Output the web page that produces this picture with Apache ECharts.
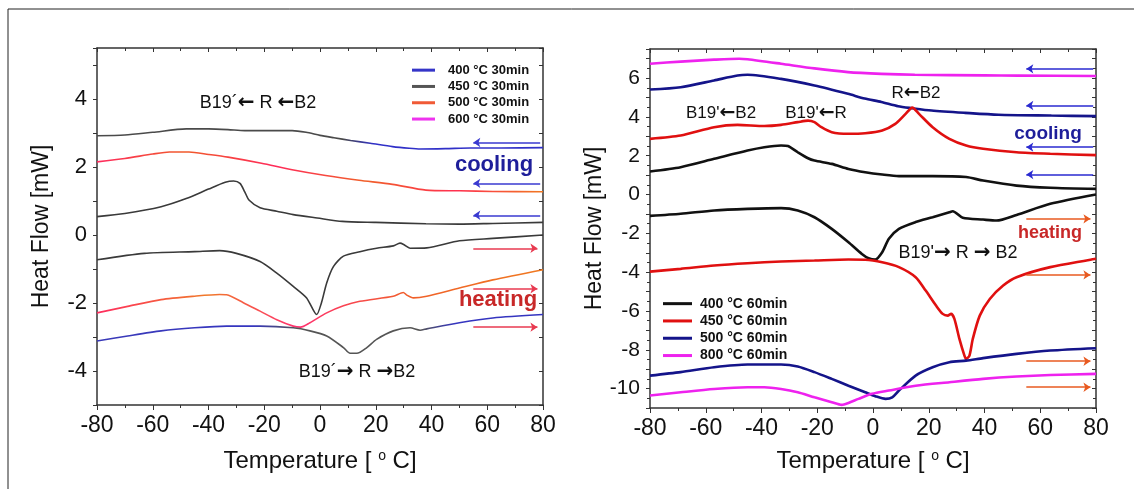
<!DOCTYPE html>
<html>
<head>
<meta charset="utf-8">
<script src="https://cdn.jsdelivr.net/npm/echarts@6/dist/echarts.min.js"></script>
<style>
  html, body { margin: 0; padding: 0; background: #fff; }
  #dsc { width: 1134px; height: 489px; }
</style>
</head>
<body>
<div id="dsc"></div>
<script>
// --- left panel: 30min anneals, [T (°C), heat flow (mW)] ---
var coolTopL = [[-80,2.92],[-70,2.94],[-60,3.02],[-48,3.12],[-40,3.12],[-33,3.1],[-27,3.07],[-20,3.07],[-10,3.07],[-5,3.02],[0,2.93],[5,2.86],[11,2.78],[18,2.7],[26,2.6],[32,2.55],[36,2.53],[45,2.54],[54,2.56],[65,2.56],[80,2.57]];
var coolMidL = [[-80,2.15],[-70,2.25],[-60,2.38],[-54,2.44],[-47,2.44],[-40,2.37],[-33,2.29],[-21,2.11],[-10,1.92],[2,1.75],[14,1.61],[26,1.49],[38,1.32],[50,1.3],[62,1.28],[80,1.27]];
var coolLowL = [[-80,0.54],[-70,0.63],[-57,0.83],[-48,1.07],[-40,1.35],[-34,1.55],[-31,1.59],[-28.7,1.52],[-27,1.27],[-25.4,1.02],[-21.5,0.8],[-15.5,0.7],[-9.6,0.6],[-1,0.5],[8,0.4],[20,0.37],[38,0.33],[50,0.32],[62,0.34],[80,0.37]];
var heatTopL = [[-80,-0.73],[-63,-0.54],[-45,-0.49],[-36,-0.46],[-30,-0.54],[-21.5,-0.78],[-15.5,-1.12],[-9.6,-1.51],[-4.8,-1.85],[-1.2,-2.34],[0.5,-2.0],[2.4,-1.41],[4.8,-0.93],[8.4,-0.62],[14.3,-0.49],[20.3,-0.39],[26.3,-0.32],[28.7,-0.24],[30,-0.28],[32.3,-0.39],[38.3,-0.38],[50,-0.17],[62,-0.1],[80,0]];
var heatMidL = [[-80,-2.29],[-69,-2.1],[-57,-1.9],[-45,-1.8],[-36,-1.75],[-33.5,-1.76],[-27.5,-1.99],[-21.5,-2.24],[-15.5,-2.49],[-9.6,-2.68],[-7,-2.71],[-3.6,-2.58],[2.4,-2.29],[8.4,-2.08],[14.3,-1.95],[26.3,-1.8],[29.9,-1.69],[31,-1.76],[33.5,-1.85],[38.3,-1.8],[50,-1.56],[62,-1.32],[80,-1.02]];
var heatLowL = [[-80,-3.12],[-69,-2.97],[-57,-2.82],[-45,-2.73],[-33.5,-2.68],[-21.5,-2.68],[-9.6,-2.73],[-3.6,-2.82],[2.4,-2.97],[8.4,-3.31],[10.8,-3.48],[13.2,-3.48],[16.8,-3.31],[20.3,-3.07],[26.3,-2.82],[32.3,-2.73],[35.9,-2.8],[38.3,-2.76],[50,-2.58],[62,-2.44],[80,-2.34]];

// --- right panel: 60min anneals ---
var coolMagR = [[-80,6.74],[-69,6.85],[-57,6.95],[-48,7.0],[-45,6.97],[-33,6.74],[-21,6.5],[-9,6.31],[3,6.22],[15,6.17],[40,6.14],[52,6.13],[80,6.11]];
var coolBlueR = [[-80,5.41],[-69,5.53],[-57,5.88],[-48.6,6.13],[-45,6.17],[-33,5.96],[-21,5.62],[-9,5.19],[-3,4.95],[3,4.77],[9,4.55],[14,4.45],[21,4.33],[33,4.21],[45,4.11],[64,4.07],[80,4.04]];
var coolRedR = [[-80,2.87],[-69,3.04],[-57,3.47],[-48.6,3.59],[-39,3.53],[-33,3.59],[-27,3.73],[-23.3,3.81],[-21,3.73],[-18.5,3.47],[-14.8,3.21],[-8.8,3.13],[-2.8,3.16],[3.3,3.3],[8,3.64],[11.7,4.16],[14.1,4.48],[16.5,4.16],[21.4,3.47],[27.4,2.87],[33.4,2.53],[39.5,2.36],[51.5,2.18],[63.6,2.1],[80,2.03]];
var coolBlackR = [[-80,1.19],[-69,1.41],[-57,1.84],[-45,2.27],[-39,2.44],[-33,2.53],[-30.5,2.5],[-27,2.18],[-23.3,1.87],[-21,1.75],[-14.8,1.58],[-8.8,1.32],[-2.8,1.15],[3.3,1.03],[9.3,0.95],[21.4,0.95],[33.4,0.9],[39.5,0.72],[51.5,0.46],[63.6,0.35],[80,0.29]];
var heatBlackR = [[-80,-1.1],[-69,-0.99],[-57,-0.82],[-45,-0.74],[-33,-0.7],[-27,-0.82],[-21,-1.17],[-14.8,-1.77],[-8.8,-2.46],[-4,-3.06],[-1.6,-3.28],[0.8,-3.35],[3.3,-2.97],[5.7,-2.28],[9.3,-1.77],[15.3,-1.42],[21.4,-1.17],[27.4,-0.91],[28.6,-0.86],[32.2,-1.2],[39.5,-1.29],[44.3,-1.34],[51.5,-1.05],[63.6,-0.48],[80,0]];
var heatRedR = [[-80,-3.97],[-69,-3.83],[-57,-3.66],[-45,-3.54],[-33,-3.45],[-21,-3.4],[-8.8,-3.35],[-2.8,-3.36],[3.3,-3.49],[9.3,-3.74],[15.3,-4.26],[18.9,-4.95],[22.6,-5.72],[25,-6.15],[26.8,-6.24],[28,-6.15],[29.2,-6.41],[31,-7.44],[32.8,-8.3],[33.4,-8.47],[34.6,-8.3],[35.8,-7.44],[38.3,-6.24],[41.9,-5.38],[46.7,-4.69],[51.5,-4.26],[63.6,-3.74],[80,-3.31]];
var heatBlueR = [[-80,-9.33],[-69,-9.15],[-57,-8.9],[-45,-8.76],[-33,-8.76],[-27,-8.86],[-21,-9.15],[-14.8,-9.5],[-8.8,-9.85],[-2.8,-10.19],[0.8,-10.39],[4.5,-10.53],[6.9,-10.45],[9.3,-10.1],[15.3,-9.33],[21.4,-8.9],[27.4,-8.64],[33.4,-8.56],[39.5,-8.43],[51.5,-8.21],[63.6,-8.04],[80,-7.92]];
var heatMagR = [[-80,-10.36],[-69,-10.19],[-57,-10.02],[-45,-9.93],[-39,-9.93],[-33,-10.02],[-27,-10.19],[-21,-10.45],[-14.8,-10.7],[-11.2,-10.84],[-8.8,-10.74],[-5.2,-10.53],[-0.4,-10.27],[5.7,-10.1],[15.3,-9.85],[27.4,-9.67],[39.5,-9.5],[51.5,-9.38],[63.6,-9.3],[80,-9.24]];

// direction arrows at the right edge (heat flow level of each arrow)
var coolArrowsL = [2.72, 1.52, 0.58];
var heatArrowsL = [-0.39, -1.58, -2.71];
var coolArrowsR = [6.48, 4.59, 2.44, 1.03];
var heatArrowsR = [-1.25, -4.14, -8.59, -9.93];
var arrowSpan = [55, 78];

var legendL = ['400 °C 30min', '450 °C 30min', '500 °C 30min', '600 °C 30min'];
var legendR = ['400 °C 60min', '450 °C 60min', '500 °C 60min', '800 °C 60min'];

var FONT = 'Liberation Sans, Arial, Helvetica, sans-serif';

var myChart = echarts.init(document.getElementById('dsc'));

var grad = function(stops) {
  return new echarts.graphic.LinearGradient(0, 0, 1, 0, stops.map(function(s) {
    return {offset: s[0], color: s[1]};
  }));
};

var grayBlue = grad([[0,'#4a4a4a'],[0.55,'#4a4a4a'],[0.62,'#3030c8'],[1,'#3030c8']]);
var redMix = grad([[0,'#ff2a60'],[0.2,'#f05a2a'],[0.4,'#ff2a5a'],[0.6,'#f0602a'],[0.8,'#ff3050'],[1,'#f07a20']]);
var redMix2 = grad([[0,'#ff2a60'],[0.25,'#f07a2a'],[0.45,'#ff3070'],[0.7,'#f0602a'],[1,'#f07a20']]);
var blueGray = grad([[0,'#3a3ab8'],[0.35,'#3535c0'],[0.45,'#555'],[0.72,'#555'],[0.8,'#3535c0'],[1,'#3535c0']]);

var curve = function(name, data, color, width, gi) {
  return {
    name: name,
    type: 'line',
    xAxisIndex: gi * 2,
    yAxisIndex: gi * 2,
    data: data,
    smooth: 0.25,
    symbol: 'none',
    lineStyle: {color: color, width: width},
    itemStyle: {color: color},
    z: 3
  };
};

var arrows = function(levels, cooling, color, gi) {
  return {
    type: 'lines',
    coordinateSystem: 'cartesian2d',
    xAxisIndex: gi * 2,
    yAxisIndex: gi * 2,
    symbol: ['none', 'arrow'],
    symbolSize: 7,
    lineStyle: {color: color, width: 1.6, opacity: 1, curveness: 0},
    data: levels.map(function(v) {
      var a = [arrowSpan[1] + 1, v], b = [arrowSpan[0], v];
      return {coords: cooling ? [a, b] : [b, [arrowSpan[1], v]]};
    }),
    z: 4
  };
};

var xAxes = function(gi, gap) {
  var base = {
    gridIndex: gi, type: 'value', min: -80, max: 80, interval: 20,
    axisLine: {onZero: false, lineStyle: {color: '#333', width: 1.5}},
    splitLine: {show: false}
  };
  return [
    Object.assign({}, base, {
      position: 'bottom',
      axisTick: {length: 5, lineStyle: {color: '#333'}},
      minorTick: {show: true, splitNumber: 2, length: 3, lineStyle: {color: '#333'}},
      axisLabel: {fontSize: 23, color: '#111', margin: 9, fontFamily: FONT},
      name: 'Temperature [ {sup|o} C]',
      nameLocation: 'middle',
      nameGap: gap,
      nameTextStyle: {
        fontSize: 24, color: '#111', fontFamily: FONT,
        rich: {sup: {fontSize: 14, fontFamily: FONT, color: '#111', padding: [0, 0, 11, 0]}}
      }
    }),
    Object.assign({}, base, {
      position: 'top',
      axisTick: {inside: true, length: 4, lineStyle: {color: '#333'}},
      minorTick: {show: true, splitNumber: 2, length: 3, lineStyle: {color: '#333'}},
      axisLabel: {show: false}
    })
  ];
};

var yAxes = function(gi, min, max, minor) {
  var base = {
    gridIndex: gi, type: 'value', min: min, max: max, interval: 1,
    axisLine: {show: true, onZero: false, lineStyle: {color: '#333', width: 1.5}},
    splitLine: {show: false}
  };
  return [
    Object.assign({}, base, {
      position: 'left',
      axisTick: {length: 4, lineStyle: {color: '#333'}},
      minorTick: {show: minor, splitNumber: 2, length: 3, lineStyle: {color: '#333'}},
      axisLabel: {
        fontSize: gi ? 21 : 22, color: '#111', margin: 10, fontFamily: FONT,
        formatter: function(v) { return v % 2 === 0 ? String(v) : ''; }
      },
      name: 'Heat Flow [mW]',
      nameLocation: 'middle',
      nameGap: 44,
      nameTextStyle: {fontSize: 23, color: '#111', fontFamily: FONT}
    }),
    Object.assign({}, base, {
      position: 'right',
      axisTick: {inside: true, length: 4, lineStyle: {color: '#333'}},
      minorTick: {show: minor, splitNumber: 2, length: 3, lineStyle: {color: '#333'}},
      axisLabel: {show: false}
    })
  ];
};

// annotation text; {a|...} marks the reaction arrows, drawn bolder
var label = function(text, x, y, size, color, bold) {
  return {
    type: 'text', x: x, y: y, z: 10,
    style: {
      text: text, fill: color || '#111', align: 'center', verticalAlign: 'middle',
      fontSize: size, fontFamily: FONT, fontWeight: bold ? 'bold' : 'normal',
      rich: {a: {fontSize: size + 2, fontFamily: 'DejaVu Sans', fontWeight: 'bold', fill: color || '#111'}}
    }
  };
};

var option = {
  backgroundColor: '#fff',
  animation: false,
  grid: [
    {left: 97, top: 48, width: 446, height: 357},
    {left: 650, top: 49, width: 446, height: 359}
  ],
  xAxis: xAxes(0, 44).concat(xAxes(1, 41)),
  yAxis: yAxes(0, -5, 5.5, false).concat(yAxes(1, -11, 7.5, true)),
  legend: [
    {
      orient: 'vertical', left: 407, top: 57, icon: 'rect', itemWidth: 23, itemHeight: 3,
      itemGap: 0, selectedMode: false,
      textStyle: {fontSize: 13, fontWeight: 'bold', color: '#111', fontFamily: FONT, lineHeight: 16.3, padding: [0, 0, 0, 8]},
      data: [
        {name: legendL[0], itemStyle: {color: '#3535c8'}},
        {name: legendL[1], itemStyle: {color: '#555'}},
        {name: legendL[2], itemStyle: {color: '#f05a36'}},
        {name: legendL[3], itemStyle: {color: '#ee33ee'}}
      ]
    },
    {
      orient: 'vertical', left: 658, top: 290, icon: 'rect', itemWidth: 29, itemHeight: 3,
      itemGap: 0, selectedMode: false,
      textStyle: {fontSize: 14, fontWeight: 'bold', color: '#111', fontFamily: FONT, lineHeight: 17.3, padding: [0, 0, 0, 3]},
      data: [
        {name: legendR[0], itemStyle: {color: '#111'}},
        {name: legendR[1], itemStyle: {color: '#e01010'}},
        {name: legendR[2], itemStyle: {color: '#14148a'}},
        {name: legendR[3], itemStyle: {color: '#ee22ee'}}
      ]
    }
  ],
  series: [
    curve(legendL[0], coolTopL, grayBlue, 1.6, 0),
    curve(legendL[2], coolMidL, redMix, 1.6, 0),
    curve(legendL[1], coolLowL, '#3a3a3a', 1.6, 0),
    curve(legendL[1], heatTopL, '#3a3a3a', 1.6, 0),
    curve(legendL[2], heatMidL, redMix2, 1.6, 0),
    curve(legendL[0], heatLowL, blueGray, 1.6, 0),
    curve(legendL[3], [], '#ee33ee', 1.6, 0),
    curve(legendR[3], coolMagR, '#ee22ee', 2.6, 1),
    curve(legendR[2], coolBlueR, '#14148a', 2.6, 1),
    curve(legendR[1], coolRedR, '#e01010', 2.6, 1),
    curve(legendR[0], coolBlackR, '#111', 2.6, 1),
    curve(legendR[0], heatBlackR, '#111', 2.6, 1),
    curve(legendR[1], heatRedR, '#e01010', 2.6, 1),
    curve(legendR[2], heatBlueR, '#14148a', 2.6, 1),
    curve(legendR[3], heatMagR, '#ee22ee', 2.6, 1),
    arrows(coolArrowsL, true, '#3a3ad0', 0),
    arrows(heatArrowsL, false, '#e83a50', 0),
    arrows(coolArrowsR, true, '#2a2ad0', 1),
    arrows(heatArrowsR, false, '#e85a20', 1)
  ],
  graphic: [
    {type: 'rect', shape: {x: 8, y: 9, width: 1200, height: 600}, style: {fill: 'none', stroke: '#222', lineWidth: 1}, silent: true},
    label('B19´{a|←} R {a|←}B2', 258, 103, 18),
    label('B19´{a|→} R {a|→}B2', 357, 372, 18),
    label('cooling', 494, 165, 22, '#1e1e9a', true),
    label('heating', 498, 300, 22, '#c82828', true),
    label('R{a|←}B2', 916, 93, 17),
    label("B19'{a|←}B2", 721, 113, 17),
    label("B19'{a|←}R", 816, 113, 17),
    label("B19'{a|→} R {a|→} B2", 958, 253, 18),
    label('cooling', 1048, 134, 19, '#1e1e9a', true),
    label('heating', 1050, 233, 18, '#c82828', true)
  ]
};

myChart.setOption(option);
</script>
</body>
</html>
